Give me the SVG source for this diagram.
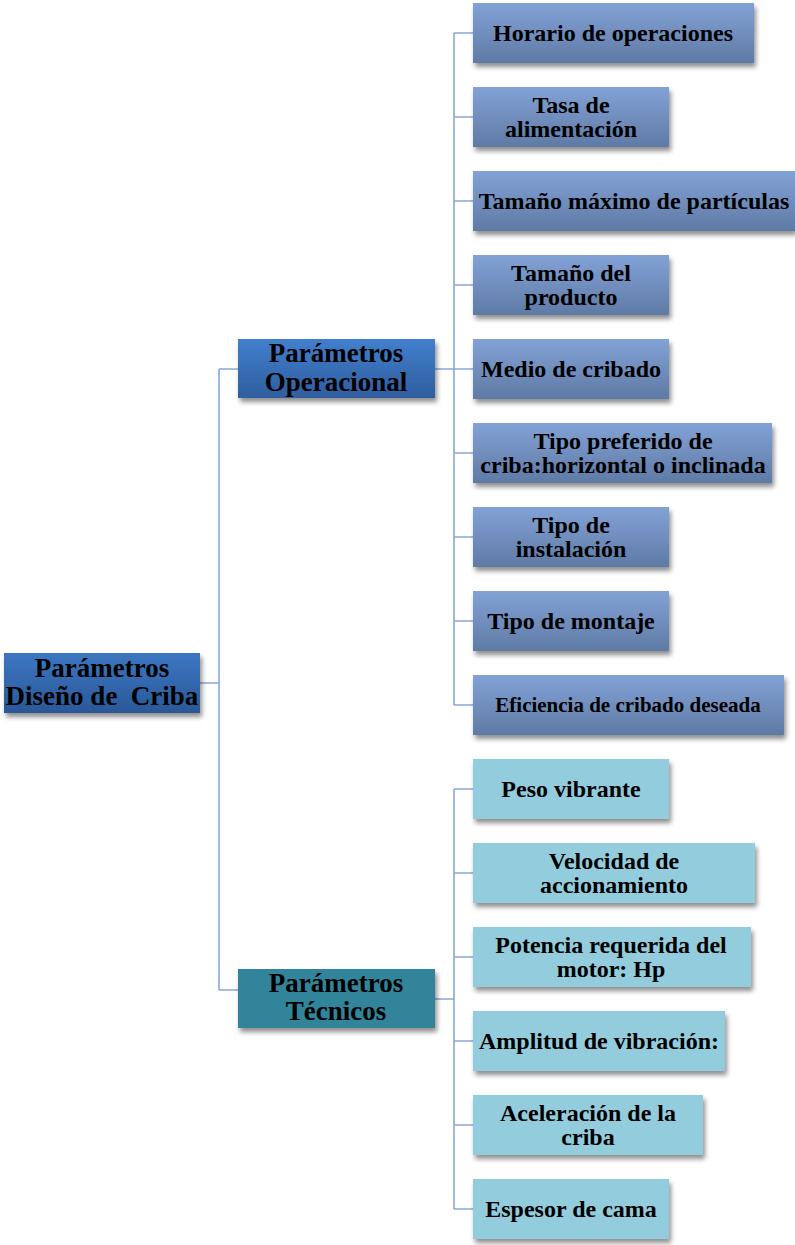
<svg xmlns="http://www.w3.org/2000/svg" width="795" height="1245" viewBox="0 0 795 1245">
  <defs>
    <linearGradient id="gRoot" x1="0" y1="0" x2="0" y2="1">
      <stop offset="0" stop-color="#3C76C2"/>
      <stop offset="1" stop-color="#2A5898"/>
    </linearGradient>
    <linearGradient id="gOp" x1="0" y1="0" x2="0" y2="1">
      <stop offset="0" stop-color="#417FCD"/>
      <stop offset="1" stop-color="#2F5E9F"/>
    </linearGradient>
    <linearGradient id="gOpChild" x1="0" y1="0" x2="0" y2="1">
      <stop offset="0" stop-color="#82A2D6"/>
      <stop offset="1" stop-color="#5F7AA5"/>
    </linearGradient>
    <filter id="shadow" x="-10%" y="-20%" width="125%" height="150%">
      <feGaussianBlur in="SourceAlpha" stdDeviation="2.5"/>
      <feOffset dx="2" dy="4" result="b"/>
      <feComponentTransfer><feFuncA type="linear" slope="0.45"/></feComponentTransfer>
      <feMerge><feMergeNode/><feMergeNode in="SourceGraphic"/></feMerge>
    </filter>
  </defs>
  <style>
    text { font-family: "Liberation Serif", "Times New Roman", serif; font-weight: bold; fill: #000; text-anchor: middle; }
    .big { font-size: 27px; }
    .mid { font-size: 24px; }
    .small { font-size: 21px; }
    .edge { fill: none; stroke: #8AA6D8; stroke-width: 1.6; }
    .opc { fill: url(#gOpChild); filter: url(#shadow); }
    .tec { fill: #93CDDD; filter: url(#shadow); }
  </style>

  <rect width="795" height="1245" fill="#FFFFFF"/>

  <!-- connectors -->
  <g id="connectors">
    <path class="edge" d="M200,683 H219 M219,369 V990 M219,369 H238 M219,990 H238"/>
    <path class="edge" d="M435,369 H454 M454,33 V705 M454,33 H473 M454,117 H473 M454,201 H473 M454,285 H473 M454,369 H473 M454,453 H473 M454,537 H473 M454,621 H473 M454,705 H473"/>
    <path class="edge" d="M435,999 H454 M454,789 V1209 M454,789 H473 M454,873 H473 M454,957 H473 M454,1041 H473 M454,1125 H473 M454,1209 H473"/>
  </g>

  <!-- root -->
  <g id="root">
    <rect x="4" y="653" width="196" height="60" fill="url(#gRoot)" filter="url(#shadow)"/>
    <text class="big" x="102" y="677">Parámetros</text>
    <text class="big" x="102" y="705" xml:space="preserve">Diseño de  Criba</text>
  </g>

  <!-- second level -->
  <g id="operacional">
    <rect x="238" y="339" width="197" height="59" fill="url(#gOp)" filter="url(#shadow)"/>
    <text class="big" x="336" y="362">Parámetros</text>
    <text class="big" x="336" y="391">Operacional</text>
  </g>
  <g id="tecnicos">
    <rect x="238" y="969" width="197" height="59" fill="#31849B" filter="url(#shadow)"/>
    <text class="big" x="336" y="992">Parámetros</text>
    <text class="big" x="336" y="1020">Técnicos</text>
  </g>

  <!-- operational parameters -->
  <g id="horario">
    <rect class="opc" x="473" y="3" width="281" height="60"/>
    <text class="mid" x="613" y="41">Horario de operaciones</text>
  </g>
  <g id="tasa">
    <rect class="opc" x="473" y="87" width="196" height="60"/>
    <text class="mid" x="571" y="113">Tasa de</text>
    <text class="mid" x="571" y="137">alimentación</text>
  </g>
  <g id="tamano-max">
    <rect class="opc" x="473" y="171" width="322" height="60"/>
    <text class="mid" x="634" y="209">Tamaño máximo de partículas</text>
  </g>
  <g id="tamano-prod">
    <rect class="opc" x="473" y="255" width="196" height="60"/>
    <text class="mid" x="571" y="281">Tamaño del</text>
    <text class="mid" x="571" y="305">producto</text>
  </g>
  <g id="medio">
    <rect class="opc" x="473" y="339" width="196" height="60"/>
    <text class="mid" x="571" y="377">Medio de cribado</text>
  </g>
  <g id="tipo-criba">
    <rect class="opc" x="473" y="423" width="299" height="60"/>
    <text class="mid" x="623" y="449">Tipo preferido de</text>
    <text class="mid" x="623" y="473">criba:horizontal o inclinada</text>
  </g>
  <g id="instalacion">
    <rect class="opc" x="473" y="507" width="196" height="60"/>
    <text class="mid" x="571" y="533">Tipo de</text>
    <text class="mid" x="571" y="557">instalación</text>
  </g>
  <g id="montaje">
    <rect class="opc" x="473" y="591" width="196" height="60"/>
    <text class="mid" x="571" y="629">Tipo de montaje</text>
  </g>
  <g id="eficiencia">
    <rect class="opc" x="473" y="675" width="311" height="60"/>
    <text class="small" x="628" y="712">Eficiencia de cribado deseada</text>
  </g>

  <!-- technical parameters -->
  <g id="peso">
    <rect class="tec" x="473" y="759" width="196" height="60"/>
    <text class="mid" x="571" y="797">Peso vibrante</text>
  </g>
  <g id="velocidad">
    <rect class="tec" x="473" y="843" width="282" height="60"/>
    <text class="mid" x="614" y="869">Velocidad de</text>
    <text class="mid" x="614" y="893">accionamiento</text>
  </g>
  <g id="potencia">
    <rect class="tec" x="473" y="927" width="278" height="60"/>
    <text class="mid" x="611" y="953">Potencia requerida del</text>
    <text class="mid" x="611" y="977">motor: Hp</text>
  </g>
  <g id="amplitud">
    <rect class="tec" x="473" y="1011" width="252" height="60"/>
    <text class="mid" x="599" y="1049">Amplitud de vibración:</text>
  </g>
  <g id="aceleracion">
    <rect class="tec" x="473" y="1095" width="230" height="60"/>
    <text class="mid" x="588" y="1121">Aceleración de la</text>
    <text class="mid" x="588" y="1145">criba</text>
  </g>
  <g id="espesor">
    <rect class="tec" x="473" y="1179" width="196" height="60"/>
    <text class="mid" x="571" y="1217">Espesor de cama</text>
  </g>
</svg>
